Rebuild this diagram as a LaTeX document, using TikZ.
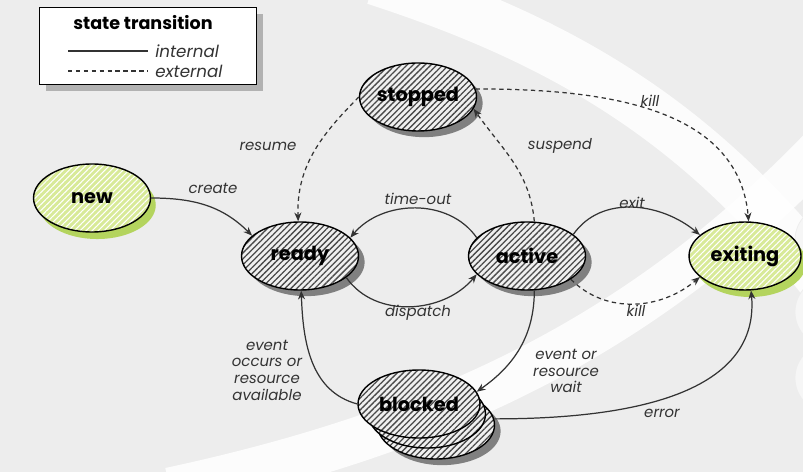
\documentclass[tikz,border=0pt]{standalone}
\usepackage{fontspec}
\setmainfont{Poppins}
\usetikzlibrary{shapes, arrows.meta, shadows, calc, positioning, patterns.meta}
\definecolor{slidegrey}{HTML}{EDEDED}
\definecolor{hatchgrey}{HTML}{4A4A4A}
\definecolor{statelime}{HTML}{D8EA98}
\definecolor{limeshadow}{HTML}{B4D45E}
\definecolor{inkgrey}{HTML}{333333}
\tikzset{blob/.style={draw, ellipse, line width=0.8pt, minimum width=2.34cm, minimum height=1.36cm, inner sep=0pt, font=\fontsize{11}{13}\selectfont\bfseries}}
\tikzset{hatched/.style={blob, preaction={fill=white!94!black}, pattern={Lines[angle=45, distance=2.4pt, line width=0.75pt]}, pattern color=hatchgrey}}
\tikzset{state/.style={blob, drop shadow={shadow xshift=3.5pt, shadow yshift=-3.5pt, fill=black!50, opacity=1}, preaction={fill=white!94!black}, pattern={Lines[angle=45, distance=2.4pt, line width=0.75pt]}, pattern color=hatchgrey}}
\tikzset{gstate/.style={blob, drop shadow={shadow xshift=3pt, shadow yshift=-4pt, fill=limeshadow, opacity=1}, preaction={fill=statelime}, pattern={Lines[angle=45, distance=2.4pt, line width=0.6pt]}, pattern color=white}}
\tikzset{edge/.style={color=inkgrey, line width=0.7pt, -{Stealth[length=5pt, width=4pt]}}}
\tikzset{xedge/.style={edge, dash pattern=on 2.5pt off 2pt}}
\tikzset{lbl/.style={font=\fontsize{8.5}{9.5}\selectfont\itshape, text=inkgrey, align=center, inner sep=1pt}}

\begin{document}
\begin{tikzpicture}[x=0.02cm, y=-0.02cm]
        \useasboundingbox (0,0) rectangle (803,472);
        \fill[slidegrey] (0,0) rectangle (803,472);
        \begin{scope}
        \clip (0,0) rectangle (803,472);
        \draw[white, line width=1.0cm, opacity=.85] (375,-20) .. controls (560,40) and (700,120) .. (830,290);
        \draw[white, line width=0.9cm, opacity=.85] (170,490) .. controls (450,430) and (650,330) .. (830,140);
        \foreach \cy in {240, 312, 378}
            \draw[black!7, fill=white!50!slidegrey] (830,\cy) circle (0.7cm);
        \end{scope}

        % legend
        \node[draw, fill=white, line width=0.8pt, minimum width=4.34cm, minimum height=1.54cm, drop shadow={shadow xshift=3.5pt, shadow yshift=-3.5pt, fill=black!30, opacity=1}] (legend) at (148,46) {};
        \node[font=\fontsize{10}{12}\selectfont\bfseries] (ltitle) at (143,23) {state transition};
        \coordinate (li1) at (68,51);
        \coordinate (li2) at (148,51);
        \coordinate (le1) at (68,71);
        \coordinate (le2) at (148,71);
        \draw[inkgrey, line width=0.7pt] (li1) -- (li2);
        \draw[inkgrey, line width=0.7pt, dash pattern=on 2.5pt off 2pt] (le1) -- (le2);
        \node[lbl, anchor=west, xshift=3pt, font=\fontsize{9.5}{11}\selectfont\itshape] (linternal) at (li2) {internal};
        \node[lbl, anchor=west, xshift=3pt, font=\fontsize{9.5}{11}\selectfont\itshape] (lexternal) at (le2) {external};

        % states
        \node[gstate] (new) at (92,198) {new};
        \node[state] (stopped) at (418,97) {stopped};
        \node[state] (ready) at (300,256) {ready};
        \node[state] (active) at (527,256) {active};
        \node[gstate, minimum width=2.24cm] (exiting) at (745,256) {exiting};
        \node[state] (blocked3) at (436,425) {};
        \node[hatched] (blocked2) at (427,414) {};
        \node[hatched, minimum width=2.44cm] (blocked) at (419,404) {blocked};

        % transitions
        \draw [edge] (new.east) to [out=0, in=135] (ready.157);
        \draw [edge] (active.160) to [out=125, in=50] (ready.20);
        \draw [edge] (ready.-25) to [out=-55, in=-130] (active.-160);
        \draw [edge] (active.25) to [out=55, in=140] (exiting.155);
        \draw [xedge] (stopped.180) to [out=225, in=92] (ready.93);
        \draw [xedge] (active.78) to [out=95, in=-55] (stopped.-12);
        \draw [xedge] (stopped.8) to [out=0, in=95] (exiting.84);
        \draw [xedge] (active.-28) to [out=-45, in=-140] (exiting.-155);
        \draw [edge] (blocked.west) to [out=165, in=-88] (ready.-88);
        \draw [edge] (active.-78) to [out=-90, in=35] (blocked.12);
        \draw [edge] (blocked3.6) to [out=0, in=-85] (exiting.-80);

        % labels
        \node[lbl] (lcreate) at (213,188) {create};
        \node[lbl] (ltimeout) at (418,199) {time-out};
        \node[lbl] (ldispatch) at (418,313) {dispatch};
        \node[lbl] (lresume) at (268,146) {resume};
        \node[lbl] (lsuspend) at (560,146) {suspend};
        \node[lbl] (lkilltop) at (650,101) {kill};
        \node[lbl] (lexit) at (632,203) {exit};
        \node[lbl] (lkillbot) at (636,311) {kill};
        \node[lbl] (loccurs) at (267,370) {event\\occurs or\\resource\\available};
        \node[lbl] (lwait) at (566,371) {event or\\resource\\wait};
        \node[lbl] (lerror) at (662,413) {error};
    \end{tikzpicture}
\end{document}
